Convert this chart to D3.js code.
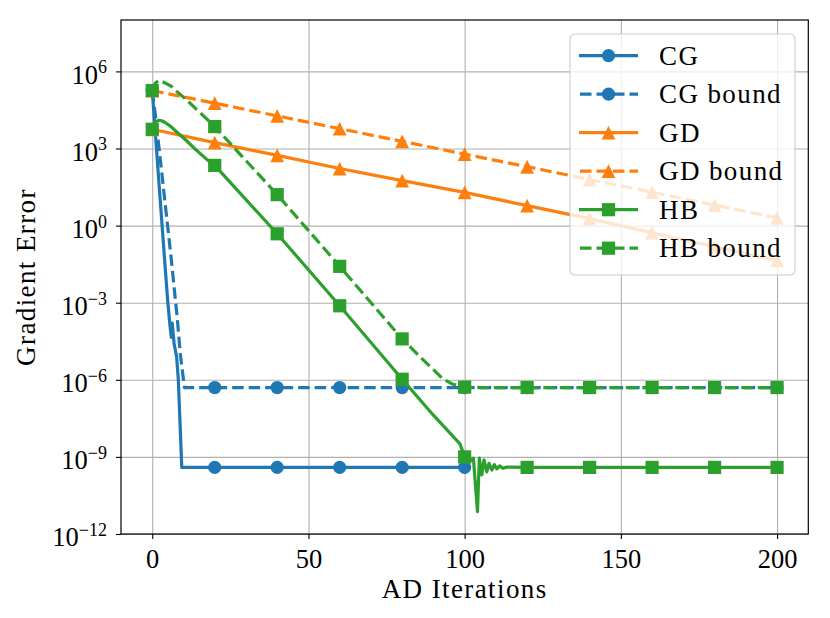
<!DOCTYPE html>
<html><head><meta charset="utf-8">
<script src="https://cdn.jsdelivr.net/npm/d3@7"></script>
<style>
body{margin:0;background:#fff}
text{font-family:"Liberation Serif","Times New Roman",serif;fill:#000}
</style>
</head><body>
<svg id="chart" width="830" height="618"></svg>
<script>
// ---- data: [AD iteration, gradient error] ----
const cgData = [[0,1.8e5],[1,4e3],[2,8e1],[3,1.8],[4,4e-2],[5,1e-3],[5.6,1.6e-4],[6.1,4.5e-5],[6.4,1.6e-4],[7,2.5e-5],[7.8,8e-6],[8.35,1e-6],[9.45,3.9e-10],[20,3.9e-10],[40,3.9e-10],[60,3.9e-10],[80,3.9e-10],[100,3.9e-10]];
const cgBoundData = [[0,1.8e5],[1,2e4],[2,1.6e3],[3,1.3e2],[4,1e1],[5,8e-1],[6,6.3e-2],[7,4e-3],[8,2.5e-4],[9,1e-5],[10.3,5e-7],[20,5e-7],[40,5e-7],[60,5e-7],[80,5e-7],[100,5e-7],[120,5e-7],[140,5e-7],[160,5e-7],[180,5e-7],[200,5e-7]];
const gdData = [[0,5.6e3],[20,1.7e3],[40,5.4e2],[60,1.66e2],[80,5.6e1],[100,1.95e1],[120,6.0],[140,1.86],[160,5.2e-1],[180,1.5e-1],[200,4.4e-2]];
const gdBoundData = [[0,1.8e5],[20,5.8e4],[40,1.86e4],[60,5.9e3],[80,1.9e3],[100,6e2],[120,1.95e2],[140,6.2e1],[160,2e1],[180,6.3],[200,2.0]];
const hbData = [[0,5.6e3],[1,1.05e4],[2,1.26e4],[3,1.2e4],[4,1.05e4],[6,7.1e3],[8,4.2e3],[11,2e3],[14,8.9e2],[17,4.2e2],[20,2.2e2],[40,4.8e-1],[60,7.6e-4],[80,1.05e-6],[90,4.2e-8],[98.5,3.2e-9],[100,1e-9],[101.5,6.3e-10],[102.8,8.9e-10],[104.1,7.4e-12],[104.7,8.9e-10],[105.5,2e-10],[106.2,7.6e-10],[107.1,2.6e-10],[107.8,5.6e-10],[108.7,3.1e-10],[109.5,5e-10],[110.3,3.4e-10],[111.2,4.5e-10],[112.2,3.6e-10],[113.5,4e-10],[120,3.9e-10],[140,3.9e-10],[160,3.9e-10],[180,3.9e-10],[200,3.9e-10]];
const hbBoundData = [[0,1.8e5],[1,3.5e5],[2.2,4.5e5],[4,3.6e5],[6,2.7e5],[8,1.6e5],[11,7.8e4],[14,3.5e4],[17,1.6e4],[20,7.1e3],[40,1.6e1],[60,2.6e-2],[80,3.9e-5],[86,7.2e-6],[90,2.5e-6],[93,1.1e-6],[96,6.9e-7],[100,5.2e-7],[105,5e-7],[120,5e-7],[140,5e-7],[160,5e-7],[180,5e-7],[200,5e-7]];

const seriesNames = ["CG","CG bound","GD","GD bound","HB","HB bound"];
const seriesData = [cgData,cgBoundData,gdData,gdBoundData,hbData,hbBoundData];
const seriesColors = ["#1f77b4","#1f77b4","#ff7f0e","#ff7f0e","#2ca02c","#2ca02c"];
const seriesDashed = [false,true,false,true,false,true];
const seriesMarkers = ["circle","circle","triangle","triangle","square","square"];

const xTicks = [0,50,100,150,200];
const yTicks = [1e-12,1e-9,1e-6,1e-3,1e0,1e3,1e6];
const xLabel = "AD Iterations";
const yLabel = "Gradient Error";

// ---- layout ----
const L=121, R=808.3, T=20, B=534;
const svg = d3.select("#chart");
const x = d3.scaleLinear().domain([-10,210]).range([L,R]);
const y = d3.scaleLog().domain([1e-12,1e8]).range([B,T]);

// grid
const gx = svg.append("g").attr("transform",`translate(0,${B})`)
  .call(d3.axisBottom(x).tickValues(xTicks).tickSize(-(B-T)).tickFormat(""));
gx.select(".domain").remove();
gx.selectAll("line").attr("stroke","#b0b0b0").attr("stroke-width",1.1);
const gy = svg.append("g").attr("transform",`translate(${L},0)`)
  .call(d3.axisLeft(y).tickValues(yTicks).tickSize(-(R-L)).tickFormat(""));
gy.select(".domain").remove();
gy.selectAll("line").attr("stroke","#b0b0b0").attr("stroke-width",1.1);

// clip
svg.append("clipPath").attr("id","clip").append("rect")
  .attr("x",L).attr("y",T).attr("width",R-L).attr("height",B-T);

const line = d3.line().x(d=>x(d[0])).y(d=>y(d[1]));
const plot = svg.append("g").attr("clip-path","url(#clip)");

function drawMarker(g, type, cx, cy, color){
  const s = 6.6;
  if(type==="circle"){
    g.append("circle").attr("cx",cx).attr("cy",cy).attr("r",s).attr("fill",color);
  } else if(type==="square"){
    g.append("rect").attr("x",cx-s).attr("y",cy-s).attr("width",2*s).attr("height",2*s).attr("fill",color);
  } else {
    g.append("path").attr("d",`M${cx},${cy-s-0.3}L${cx-s-0.3},${cy+s+0.3}L${cx+s+0.3},${cy+s+0.3}Z`).attr("fill",color);
  }
}

seriesData.forEach((data,i)=>{
  const g = plot.append("g");
  g.append("path").datum(data).attr("d",line)
    .attr("fill","none").attr("stroke",seriesColors[i]).attr("stroke-width",3.2)
    .attr("stroke-linejoin","round")
    .attr("stroke-dasharray",seriesDashed[i]?"11.5,5":null);
  data.filter(d=>d[0]%20===0).forEach(d=>drawMarker(g,seriesMarkers[i],x(d[0]),y(d[1]),seriesColors[i]));
});

// frame
svg.append("rect").attr("x",L).attr("y",T).attr("width",R-L).attr("height",B-T)
  .attr("fill","none").attr("stroke","#000").attr("stroke-width",1.2);

// x axis
const ax = svg.append("g").attr("transform",`translate(0,${B})`)
  .call(d3.axisBottom(x).tickValues(xTicks).tickSize(5).tickSizeOuter(0).tickFormat(d3.format("d")));
ax.select(".domain").remove();
ax.selectAll("line").attr("stroke","#000").attr("stroke-width",1.1);
ax.selectAll("text").attr("y",34).attr("dy",0).attr("font-size",26.5)
  .style("font-family",'"Liberation Serif",serif').attr("fill","#000");

// y axis
const ay = svg.append("g").attr("transform",`translate(${L},0)`)
  .call(d3.axisLeft(y).tickValues(yTicks).tickSize(5).tickSizeOuter(0).tickPadding(9).tickFormat(""));
ay.select(".domain").remove();
ay.selectAll("line").attr("stroke","#000").attr("stroke-width",1.1);
ay.selectAll(".tick text").each(function(d){
  const e = Math.round(Math.log10(d));
  const t = d3.select(this).attr("dy","0.45em").attr("font-size",26.5)
    .style("font-family",'"Liberation Serif",serif').attr("fill","#000");
  t.text(null);
  t.append("tspan").text("10");
  t.append("tspan").attr("dy",-10.5).attr("font-size",18).text(e<0?"\u2212"+(-e):String(e));
});

// axis labels
svg.append("text").attr("x",(L+R)/2).attr("y",598).attr("text-anchor","middle")
  .attr("font-size",27).attr("letter-spacing",1.4).text(xLabel);
svg.append("text").attr("transform",`translate(35,${(T+B)/2}) rotate(-90)`).attr("text-anchor","middle")
  .attr("font-size",27).attr("letter-spacing",1.4).text(yLabel);

// legend
const lg = svg.append("g");
lg.append("rect").attr("x",570).attr("y",34).attr("width",225).attr("height",241).attr("rx",5)
  .attr("fill","#fff").attr("fill-opacity",0.8).attr("stroke","#cccccc").attr("stroke-width",1.1);
seriesNames.forEach((name,i)=>{
  const cy = 55.7 + i*38.5;
  lg.append("line").attr("x1",579).attr("x2",638).attr("y1",cy).attr("y2",cy)
    .attr("stroke",seriesColors[i]).attr("stroke-width",3.2)
    .attr("stroke-dasharray",seriesDashed[i]?"11.5,5":null)
    .attr("stroke-dashoffset",seriesDashed[i]?-1:null);
  drawMarker(lg,seriesMarkers[i],608.5,cy,seriesColors[i]);
  lg.append("text").attr("x",659).attr("y",cy+9).attr("font-size",27).attr("letter-spacing",1.4).text(name);
});
</script>
</body></html>
